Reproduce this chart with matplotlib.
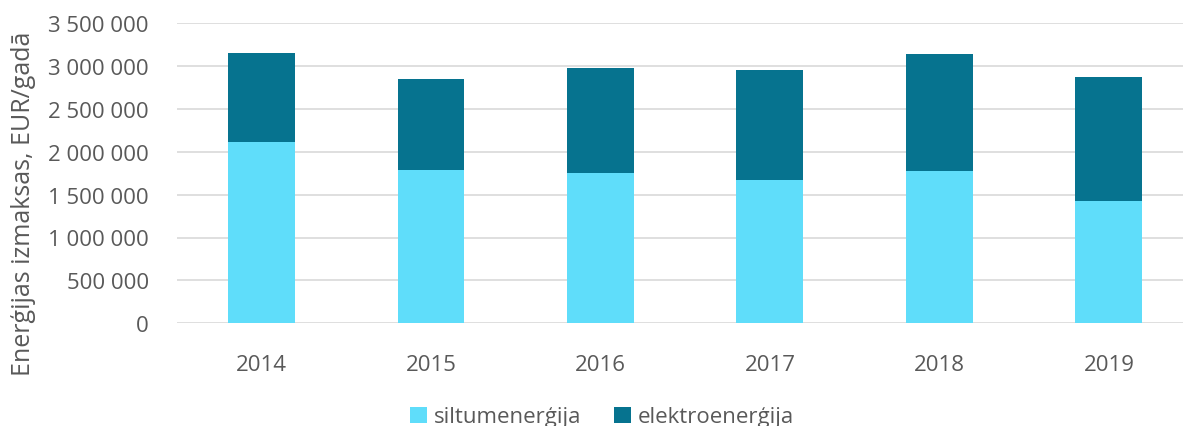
import matplotlib.pyplot as plt
import numpy as np
from matplotlib.ticker import FuncFormatter

plt.rcParams["font.family"] = ["Open Sans", "DejaVu Sans"]

# ─── Data ─────────────────────────────────────────────
years = ["2014", "2015", "2016", "2017", "2018", "2019"]
siltum = [2112000, 1785000, 1754000, 1669000, 1774000, 1427000]
elektro = [1038000, 1062000, 1221000, 1283000, 1368000, 1443000]

LIGHT = "#5FDDFA"
DARK = "#06738F"
TEXT = "#595959"
GRID = "#D9D9D9"

fig = plt.figure(figsize=(11.83, 4.27), dpi=100)
ax = fig.add_axes([176.75 / 1183, 1 - 324.3 / 427, 1 - 176.75 / 1183, (324.3 - 24) / 427])

x = np.arange(len(years))
w = 0.395
ax.bar(x, siltum, w, color=LIGHT, label="siltumenerģija", zorder=3)
ax.bar(x, elektro, w, bottom=siltum, color=DARK, label="elektroenerģija", zorder=3)

ax.set_ylim(0, 3500000)
ax.set_xlim(-0.5, 5.437)
ax.set_yticks(np.arange(0, 3500001, 500000))
ax.yaxis.set_major_formatter(FuncFormatter(lambda v, p: f"{int(v):,}".replace(",", " ")))
ax.set_xticks(x)
ax.set_xticklabels(years)

ax.grid(axis="y", color=GRID, linewidth=1.2, zorder=0)
for s in ax.spines.values():
    s.set_visible(False)
ax.tick_params(axis="both", length=0, labelsize=16, colors=TEXT)
ax.tick_params(axis="y", pad=20)
ax.tick_params(axis="x", pad=22)

ax.set_ylabel("Enerģijas izmaksas, EUR/gadā", fontsize=18, color=TEXT)
ax.yaxis.set_label_coords(-(176.75 - 36) / (1183 - 176.75), 0.402)

fig.legend(loc="center", bbox_to_anchor=(602 / 1183, 1 - 418 / 427), ncol=2,
           frameon=False, fontsize=16, labelcolor=TEXT, handlelength=0.75,
           handleheight=0.75, handletextpad=0.3, columnspacing=1.5)

fig.savefig("out.png", dpi=100)
